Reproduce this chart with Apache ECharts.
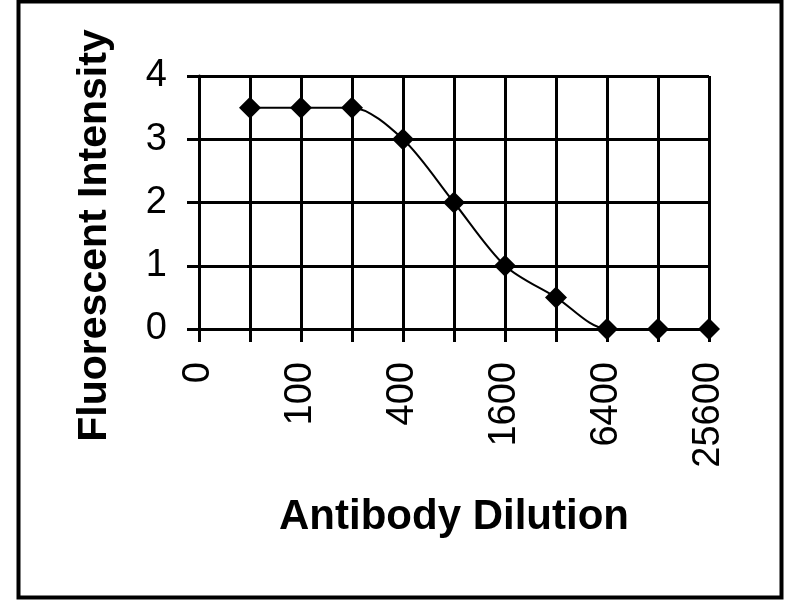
<!DOCTYPE html>
<html>
<head>
<meta charset="utf-8">
<script src="https://cdn.jsdelivr.net/npm/echarts@6/dist/echarts.min.js"></script>
<style>
html,body{margin:0;padding:0;background:#fff;}
#chart{width:800px;height:600px;}
</style>
</head>
<body>
<div id="chart"></div>
<script>
const categories = ["0","50","100","200","400","800","1600","3200","6400","12800","25600"];
const intensity = [null, 3.5, 3.5, 3.5, 3.0, 2.0, 1.0, 0.5, 0, 0, 0];
const yTicks = [0, 1, 2, 3, 4];

const chart = echarts.init(document.getElementById('chart'), null, {renderer: 'canvas'});
const font = '"Liberation Sans", Arial, sans-serif';
chart.setOption({
  backgroundColor: '#ffffff',
  animation: false,
  graphic: [{
    type: 'rect',
    shape: {x: 18.5, y: 1.5, width: 763, height: 596},
    style: {fill: 'none', stroke: '#000', lineWidth: 4}
  }],
  grid: {left: 199, top: 76, right: 91, bottom: 271, containLabel: false, outerBoundsMode: 'none'},
  xAxis: {
    type: 'category',
    data: categories,
    boundaryGap: false,
    name: 'Antibody Dilution',
    nameLocation: 'middle',
    nameGap: 167,
    nameTextStyle: {fontFamily: font, fontWeight: 'bold', fontSize: 42, color: '#000'},
    axisLine: {lineStyle: {color: '#000', width: 3}},
    axisTick: {show: true, interval: 0, length: 13, lineStyle: {color: '#000', width: 3}},
    axisLabel: {interval: 1, rotate: 90, margin: 33, fontFamily: font, fontSize: 38, color: '#000'},
    splitLine: {show: true, interval: 0, lineStyle: {color: '#000', width: 3}}
  },
  yAxis: {
    type: 'value',
    min: yTicks[0],
    max: yTicks[yTicks.length - 1],
    interval: 1,
    name: 'Fluorescent Intensity',
    nameLocation: 'middle',
    nameGap: 84,
    nameTextStyle: {fontFamily: font, fontWeight: 'bold', fontSize: 41, color: '#000', padding: [0, 66, 0, 0]},
    axisLine: {show: true, lineStyle: {color: '#000', width: 3}},
    axisTick: {show: true, length: 12, lineStyle: {color: '#000', width: 3}},
    axisLabel: {margin: 32, fontFamily: font, fontSize: 38, color: '#000'},
    splitLine: {show: true, lineStyle: {color: '#000', width: 3}}
  },
  series: [{
    type: 'line',
    data: intensity,
    smooth: 0.3,
    symbol: 'diamond',
    symbolSize: 22,
    showSymbol: true,
    lineStyle: {color: '#000', width: 2},
    itemStyle: {color: '#000'}
  }]
});
</script>
</body>
</html>
